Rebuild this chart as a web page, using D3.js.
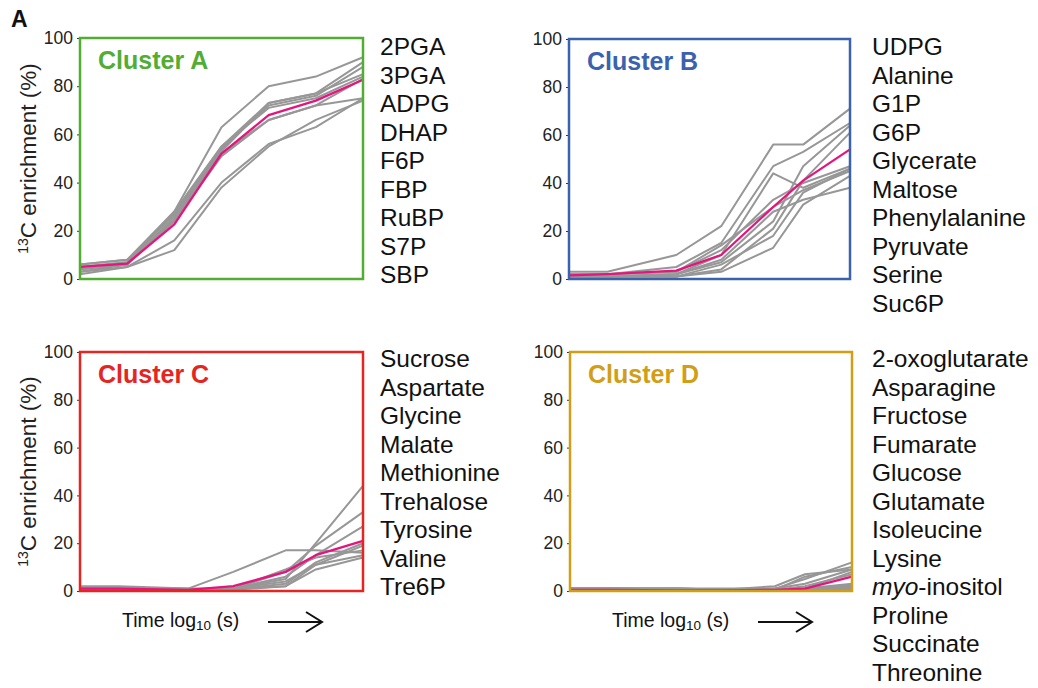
<!DOCTYPE html>
<html><head><meta charset="utf-8">
<script src="https://cdn.jsdelivr.net/npm/d3@7"></script>
<style>
body{margin:0;background:#fff;}
svg text{font-family:"Liberation Sans",Arial,Helvetica,sans-serif;}
</style></head>
<body><svg id="chart" width="1038" height="688"></svg>
<script>
// ---------- data ----------
const yTicks = [0, 20, 40, 60, 80, 100];
const timeA = [0, 1, 2, 3, 4, 5, 6];
const timeBCD = [0, 0.82, 2.29, 3.25, 4.36, 5, 6];

const namesA = ["2PGA","3PGA","ADPG","DHAP","F6P","FBP","RuBP","S7P","SBP"];
const seriesA = [
  [5, 7, 28, 63, 80, 84, 92],
  [6, 8, 28, 55, 73, 77, 90],
  [4, 6, 26, 54, 72, 76, 88],
  [3, 6, 25, 53, 73, 77, 85],
  [5, 7, 27, 55, 71, 75, 84],
  [6, 8, 24, 52, 66, 72, 83],
  [3, 5, 16, 40, 56, 63, 75],
  [2, 5, 12, 38, 55, 66, 74],
  [4, 6, 24, 51, 66, 72, 75]
];
const meanA = [5, 6.4, 22.7, 52, 68, 74, 82.7];

const namesB = ["UDPG","Alanine","G1P","G6P","Glycerate","Maltose","Phenylalanine","Pyruvate","Serine","Suc6P"];
const seriesB = [
  [3, 3, 10, 22, 56, 56, 71],
  [2, 2, 5, 15, 47, 53, 65],
  [1, 1, 2, 10, 44, 38, 46],
  [1, 1, 2, 7, 24, 47, 64],
  [1, 1, 1, 4, 21, 41, 61],
  [2, 2, 3, 12, 33, 40, 47],
  [1, 1, 1, 6, 18, 36, 46],
  [1, 1, 1, 3, 13, 31, 43],
  [1, 1, 2, 8, 28, 33, 38],
  [2, 2, 3, 14, 30, 37, 45]
];
const meanB = [1.5, 2, 3.5, 10, 30, 41, 54];

const namesC = ["Sucrose","Aspartate","Glycine","Malate","Methionine","Trehalose","Tyrosine","Valine","Tre6P"];
const seriesC = [
  [1.5, 1.5, 1, 8, 17, 17, 16],
  [0.5, 0.5, 0.5, 1, 5, 20, 44],
  [1, 1, 0.5, 1, 8, 19, 33],
  [1, 1, 0.5, 1, 6, 15, 27],
  [0.5, 0.5, 0.3, 0.8, 3, 12, 20],
  [2, 2, 1, 1, 2, 11, 19],
  [1, 1, 0.5, 1, 9, 14, 17],
  [0.5, 0.5, 0.5, 1, 4, 11, 15],
  [1, 1, 0.5, 0.5, 2, 9, 14]
];
const meanC = [1, 1, 0.5, 2, 8, 15, 21];

const namesD = ["2-oxoglutarate","Asparagine","Fructose","Fumarate","Glucose","Glutamate","Isoleucine","Lysine","myo-inositol","Proline","Succinate","Threonine"];
const seriesD = [
  [1, 1, 1, 1, 1, 5, 12],
  [1, 1, 1, 0.5, 0.5, 6, 10],
  [1, 1, 1, 0.5, 1, 3, 9],
  [0.5, 0.5, 0.5, 0.5, 0.5, 2, 7],
  [1, 1, 0.5, 0.5, 2, 7, 9],
  [0.5, 0.5, 0.5, 0.3, 0.5, 1, 3],
  [1, 1, 0.5, 0.5, 0.5, 1, 2.4],
  [0.5, 0.5, 0.3, 0.3, 0.3, 0.5, 1],
  [1, 1, 1, 0.5, 0.5, 1, 8],
  [0.5, 0.5, 0.5, 0.5, 0.5, 1, 2],
  [1, 1, 0.5, 0.5, 0.5, 0.8, 1.5],
  [0.5, 0.5, 0.5, 0.3, 0.3, 0.5, 0.5]
];
const meanD = [0.5, 0.5, 0.3, 0.3, 0.5, 1, 6];

// ---------- layout ----------
const panels = [
  {title:"Cluster A", color:"#52ad33", names:namesA, series:seriesA, mean:meanA, time:timeA,
   left:80, right:363, top:38, bottom:279, listX:380, listY:55, ytitle:true, timeLabel:false},
  {title:"Cluster B", color:"#3a62ae", names:namesB, series:seriesB, mean:meanB, time:timeBCD,
   left:569, right:850, top:39, bottom:279, listX:872, listY:55, ytitle:false, timeLabel:false},
  {title:"Cluster C", color:"#e52521", names:namesC, series:seriesC, mean:meanC, time:timeBCD,
   left:80, right:363, top:352, bottom:591, listX:380, listY:367, ytitle:true, timeLabel:true},
  {title:"Cluster D", color:"#d29e17", names:namesD, series:seriesD, mean:meanD, time:timeBCD,
   left:570, right:852, top:352, bottom:591, listX:872, listY:367, ytitle:false, timeLabel:true}
];

const svg = d3.select("#chart");

svg.append("text").attr("x", 11).attr("y", 27)
  .attr("font-size", 23).attr("font-weight", "bold").attr("fill", "#111").text("A");

panels.forEach(p => {
  const x = d3.scaleLinear().domain([0, 6]).range([p.left, p.right]);
  const y = d3.scaleLinear().domain([0, 100]).range([p.bottom, p.top]);
  const g = svg.append("g");

  const ax = g.append("g").attr("transform", `translate(${p.left},0)`)
    .call(d3.axisLeft(y).tickValues(yTicks).tickSize(3).tickPadding(4));
  ax.select(".domain").remove();
  ax.selectAll("line").attr("stroke", "#333");
  ax.selectAll("text").attr("font-size", 17.5).attr("fill", "#222")
    .attr("font-family", "'Liberation Sans',Arial,sans-serif");

  const line = d3.line().x((d, i) => x(p.time[i])).y(d => y(d));

  g.selectAll("path.gray").data(p.series).enter().append("path")
    .attr("class", "gray").attr("d", line)
    .attr("fill", "none").attr("stroke", "#979797").attr("stroke-width", 2)
    .attr("stroke-linejoin", "round");
  g.append("path").datum(p.mean).attr("d", line)
    .attr("fill", "none").attr("stroke", "#e5157f").attr("stroke-width", 2.3)
    .attr("stroke-linejoin", "round");

  g.append("rect").attr("x", p.left).attr("y", p.top)
    .attr("width", p.right - p.left).attr("height", p.bottom - p.top)
    .attr("fill", "none").attr("stroke", p.color).attr("stroke-width", 2.5);

  g.append("text").attr("x", p.left + 18).attr("y", p.top + 31)
    .attr("font-size", 25).attr("font-weight", "bold").attr("fill", p.color).text(p.title);

  p.names.forEach((n, i) => {
    const t = g.append("text").attr("x", p.listX).attr("y", p.listY + i * 28.5)
      .attr("font-size", 24.5).attr("fill", "#111");
    if (n.startsWith("myo-")) {
      t.append("tspan").attr("font-style", "italic").text("myo");
      t.append("tspan").text(n.slice(3));
    } else t.text(n);
  });

  if (p.ytitle) {
    const cy = (p.top + p.bottom) / 2;
    const t = g.append("text").attr("transform", `translate(36,${cy}) rotate(-90)`)
      .attr("text-anchor", "middle").attr("font-size", 22.5).attr("fill", "#222");
    t.append("tspan").attr("font-size", 14).attr("dy", -8).text("13");
    t.append("tspan").attr("dy", 8).text("C enrichment (%)");
  }

  if (p.timeLabel) {
    const tx = p.left + 42, ty = p.bottom + 36;
    const t = g.append("text").attr("x", tx).attr("y", ty).attr("font-size", 19.5).attr("fill", "#111");
    t.append("tspan").text("Time log");
    t.append("tspan").attr("font-size", 13.5).attr("dy", 3).text("10");
    t.append("tspan").attr("dy", -3).text("  (s)");
    const ax0 = p.left + 188, ax1 = p.left + 242, ay = ty - 5;
    g.append("line").attr("x1", ax0).attr("x2", ax1).attr("y1", ay).attr("y2", ay)
      .attr("stroke", "#111").attr("stroke-width", 2);
    g.append("path").attr("d", `M${ax1 - 16},${ay - 10} L${ax1},${ay} L${ax1 - 16},${ay + 10}`)
      .attr("fill", "none").attr("stroke", "#111").attr("stroke-width", 2);
  }
});
</script></body></html>
